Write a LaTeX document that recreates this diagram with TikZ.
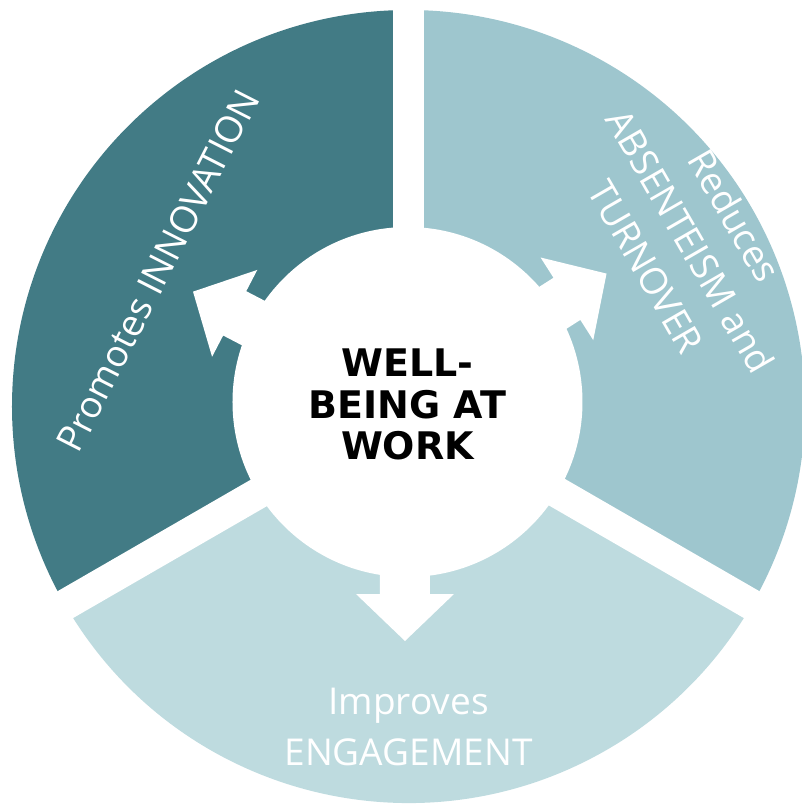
\documentclass[tikz,border=0pt]{standalone}
\usepackage{fontspec}
\newfontfamily\segfont{Open Sans}
\newfontfamily\hubfont{DejaVu Sans}
\usetikzlibrary{positioning}

\definecolor{tealdark}{RGB}{66,123,133}
\definecolor{tealmid}{RGB}{158,198,206}
\definecolor{teallight}{RGB}{190,219,223}

\tikzset{
    seglabel/.style={
        text=white, align=center, inner sep=0pt,
        font=\segfont\fontsize{37}{51}\selectfont,
    },
    hublabel/.style={
        text=black, align=center, inner sep=0pt,
        font=\hubfont\bfseries\fontsize{38}{41.5}\selectfont,
    },
}

\newcommand{\wellarrow}[1]{%
    \begin{scope}[shift={(acen)}, rotate=#1]
        \fill[white] (0,-25) -- (192,-25) -- (192,-49) -- (239,0)
            -- (192,49) -- (192,25) -- (0,25) -- cycle;
    \end{scope}}

\begin{document}
\begin{tikzpicture}[x=1pt,y=1pt]
        \useasboundingbox (-408.5,-397.5) rectangle (393.5,406.5);
        \clip (-408.5,-397.5) rectangle (393.5,406.5);

        \coordinate (c) at (0,0);
        \coordinate (hcen) at (-1,4.5);
        \coordinate (acen) at (-3.5,4.5);

        % the three segments
        \fill[tealdark] (c) -- (90:396.5)
            arc[start angle=90, end angle=210, radius=396.5] -- cycle;
        \fill[teallight] (c) -- (210:396.5)
            arc[start angle=210, end angle=330, radius=396.5] -- cycle;
        \fill[tealmid] (c) -- (-30:396.5)
            arc[start angle=-30, end angle=90, radius=396.5] -- cycle;

        % gaps between them
        \foreach \a in {90,210,330}
            \draw[white, line width=31pt] (c) -- (\a:430);

        % hub and arrows
        \fill[white] (hcen) circle[radius=175];
        \wellarrow{152.5}
        \wellarrow{32.5}
        \wellarrow{270}

        \node[hublabel] (hub) at (-1,2) {WELL-\\BEING AT\\WORK};

        \node[seglabel, rotate=63] (innov) at (151.5:285) {Promotes INNOVATION};
        \node[seglabel, rotate=-60] (absent) at (30.4:327)
            {Reduces\\ABSENTEISM and\\TURNOVER};
        \node[seglabel] (engage) at (0,-320) {Improves\\ENGAGEMENT};
    \end{tikzpicture}
\end{document}
